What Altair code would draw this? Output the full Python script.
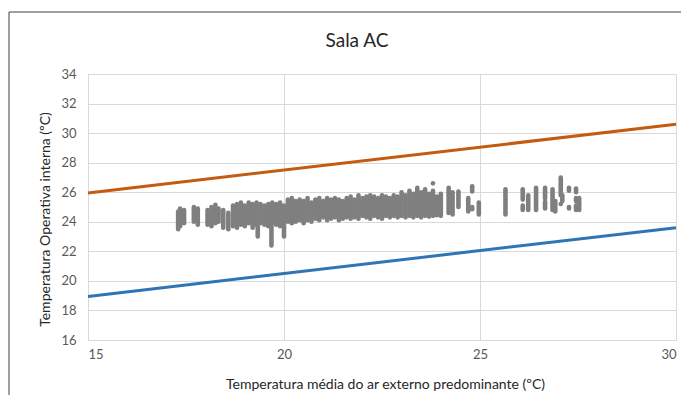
import altair as alt
import pandas as pd

# Measured point clusters: x (ºC) with the lowest and highest indoor temperature seen at that x
seg_x = [17.3, 17.35, 17.45, 17.7, 17.8, 18.05, 18.15, 18.25, 18.33, 18.45, 18.58,
         18.7, 18.8, 18.9, 19.0, 19.1, 19.2, 19.3, 19.4, 19.5, 19.6, 19.7, 19.8, 19.9, 20.0,
         20.1, 20.2, 20.3, 20.4, 20.5, 20.6, 20.7, 20.8, 20.9, 21.0, 21.1, 21.2, 21.3, 21.4,
         21.5, 21.6, 21.7, 21.8, 21.9, 22.0, 22.1, 22.2, 22.3, 22.4, 22.5, 22.6, 22.7, 22.8,
         22.9, 23.0, 23.1, 23.2, 23.3, 23.4, 23.5, 23.6, 23.7, 23.8, 23.9,
         19.33, 19.68, 20.0, 23.8,
         24.0, 24.2, 24.3, 24.45, 24.7, 24.8, 24.8, 24.97, 25.65,
         26.09, 26.09, 26.23, 26.43, 26.66, 26.66, 26.85, 26.92,
         27.06, 27.06, 27.06, 27.1, 27.27, 27.27, 27.45, 27.45, 27.45, 27.53]
seg_lo = [23.5, 23.7, 23.9, 24.0, 23.8, 23.8, 23.7, 23.9, 24.0, 23.6, 23.5,
          23.7, 23.6, 23.8, 23.7, 23.9, 23.6, 23.8, 23.9, 23.8, 23.7, 23.9, 23.8, 23.7, 23.6,
          24.0, 23.9, 24.0, 24.1, 23.9, 24.1, 24.0, 24.2, 24.1, 24.3, 24.1, 24.2, 24.3, 24.1,
          24.2, 24.3, 24.2, 24.3, 24.2, 24.4, 24.3, 24.2, 24.4, 24.3, 24.2, 24.4, 24.3, 24.4,
          24.3, 24.4, 24.3, 24.4, 24.3, 24.4, 24.3, 24.4, 24.35, 24.4, 24.45,
          23.0, 22.4, 23.0, 26.6,
          24.4, 24.6, 24.5, 25.0, 24.7, 26.05, 24.85, 24.5, 24.5,
          25.5, 24.8, 24.8, 24.8, 25.6, 24.9, 24.8, 24.7,
          26.4, 25.8, 25.2, 25.4, 26.1, 24.9, 26.0, 25.4, 24.8, 24.8]
seg_hi = [24.7, 24.9, 24.8, 25.0, 24.9, 24.8, 25.0, 25.15, 24.9, 24.8, 24.6,
          25.1, 25.2, 25.3, 25.1, 25.3, 25.2, 25.3, 25.2, 25.1, 25.2, 25.3, 25.2, 25.3, 25.1,
          25.5, 25.6, 25.4, 25.5, 25.4, 25.6, 25.3, 25.5, 25.6, 25.4, 25.6, 25.5, 25.6, 25.5,
          25.4, 25.6, 25.7, 25.5, 25.8, 25.6, 25.7, 25.8, 25.7, 25.6, 25.8, 25.7, 25.6, 25.8,
          25.7, 26.0, 25.8, 26.1, 25.9, 26.3, 26.0, 26.2, 25.9, 26.1, 25.7,
          23.7, 23.7, 23.6, 26.6,
          25.9, 26.3, 26.0, 26.05, 25.6, 26.4, 25.0, 25.3, 26.2,
          26.2, 25.1, 25.8, 26.3, 26.3, 25.35, 26.2, 25.4,
          27.0, 26.3, 25.2, 25.8, 26.3, 25.0, 26.25, 25.6, 25.1, 25.6]

# Adaptive comfort limits (endpoints)
line_x = [15, 30]
upper_y = [25.95, 30.6]
lower_y = [18.95, 23.6]

x_ticks = [15, 20, 25, 30]
y_ticks = [16, 18, 20, 22, 24, 26, 28, 30, 32, 34]

FONT = "Lato"
GREY = "#7f7f7f"

pts = pd.DataFrame({"x": seg_x, "lo": seg_lo, "hi": seg_hi})
lines = pd.DataFrame({
    "x": line_x + line_x,
    "y": upper_y + lower_y,
    "s": ["Superior"] * 2 + ["Inferior"] * 2,
})

xs = alt.Scale(domain=[15, 30], nice=False)
ys = alt.Scale(domain=[16, 34], nice=False)

x_axis = alt.Axis(values=x_ticks, title="Temperatura média do ar externo predominante (ºC)",
                  grid=True, domain=False, ticks=False, labelPadding=8, labelOverlap=False,
                  titleX=297, titleY=44, titleBaseline="middle", titleAlign="center")
y_axis = alt.Axis(values=y_ticks, title="Temperatura Operativa interna (ºC)",
                  grid=True, domain=False, ticks=False, labelPadding=12, labelOverlap=False,
                  titleX=-43, titleY=145, titleBaseline="middle", titleAlign="center", titleAngle=270)

base_pts = alt.Chart(pts).mark_rule(color=GREY, strokeWidth=4.6, strokeCap="round").encode(
    x=alt.X("x:Q", scale=xs, axis=x_axis),
    y=alt.Y("lo:Q", scale=ys, axis=y_axis),
    y2="hi:Q",
)

line_layer = alt.Chart(lines).mark_line(strokeWidth=3).encode(
    x=alt.X("x:Q", scale=xs, axis=x_axis),
    y=alt.Y("y:Q", scale=ys, axis=y_axis),
    detail="s:N",
    color=alt.Color("s:N", scale=alt.Scale(domain=["Superior", "Inferior"],
                                          range=["#c55a11", "#2e75b6"]), legend=None),
)

frame_df = pd.DataFrame({"a": [0]})
frame_v = alt.Chart(frame_df).mark_rule(color="#404040", strokeWidth=1).encode(
    x=alt.value(-79), y=alt.value(-62), y2=alt.value(330))
frame_h = alt.Chart(frame_df).mark_rule(color="#404040", strokeWidth=1).encode(
    x=alt.value(-79), x2=alt.value(600), y=alt.value(-62))

chart = alt.layer(base_pts, line_layer, frame_v, frame_h).properties(
    width=588, height=266,
    padding={"left": 80, "top": 66, "right": 5, "bottom": 55},
    autosize=alt.AutoSizeParams(type="none"),
    title=alt.TitleParams("Sala AC", fontSize=19, font=FONT, fontWeight="normal",
                          color="#262626", anchor="middle", frame="group",
                          baseline="bottom", offset=0, dy=58, dx=-25),
).configure_axis(
    gridColor="#d9d9d9", gridWidth=1,
    labelFont=FONT, labelFontSize=13, labelColor="#595959",
    titleFont=FONT, titleFontSize=14, titleColor="#262626", titleFontWeight="normal",
).configure_view(stroke="#d9d9d9", strokeWidth=1)

chart.save("out.html", embed_options={"renderer": "svg", "actions": False})
